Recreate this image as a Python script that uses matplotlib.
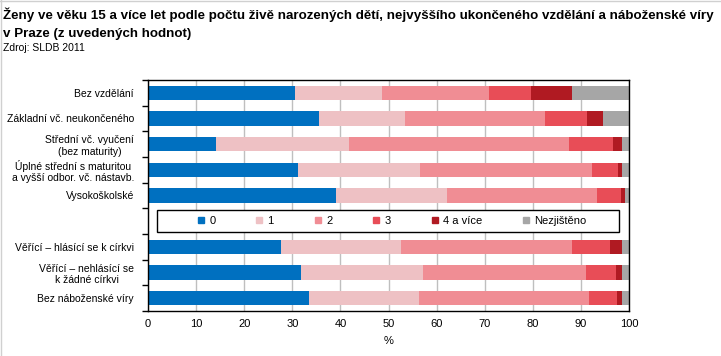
import numpy as np
import matplotlib.pyplot as plt
from matplotlib.lines import Line2D
from matplotlib.patches import Rectangle

plt.rcParams['font.family'] = ['Liberation Sans', 'DejaVu Sans']

# Data (% of women aged 15+, Prague, SLDB 2011)
categories = [
    "Bez vzdělání",
    "Základní vč. neukončeného",
    "Střední vč. vyučení\n(bez maturity)",
    "Úplné střední s maturitou\na vyšší odbor. vč. nástavb.",
    "Vysokoškolské",
    "Věřící – hlásící se k církvi",
    "Věřící – nehlásící se\nk žádné církvi",
    "Bez náboženské víry",
]
series_names = ["0", "1", "2", "3", "4 a více", "Nezjištěno"]
kids_0 = [30.6, 35.6, 14.2, 31.1, 39.1, 27.7, 31.8, 33.5]
kids_1 = [18.0, 17.8, 27.6, 25.4, 23.1, 24.9, 25.4, 22.8]
kids_2 = [22.3, 29.1, 45.7, 35.8, 31.1, 35.5, 33.8, 35.4]
kids_3 = [8.7, 8.8, 9.2, 5.4, 5.0, 7.9, 6.3, 5.8]
kids_4plus = [8.5, 3.3, 1.8, 0.8, 0.9, 2.5, 1.2, 1.0]
unknown = [11.9, 5.4, 1.5, 1.5, 0.8, 1.5, 1.5, 1.5]

colors = ["#0070C0", "#EEC1C4", "#F08D94", "#E84D57", "#B01A22", "#A6A6A6"]

series = [kids_0, kids_1, kids_2, kids_3, kids_4plus, unknown]

# one empty slot between education and religion groups (legend sits there)
ypos = np.array([0, 1, 2, 3, 4, 6, 7, 8])

W, H = 721, 356
fig = plt.figure(figsize=(W / 100, H / 100), dpi=100)
ax = fig.add_axes([148 / W, 1 - 311 / H, 481 / W, 231 / H])

left = np.zeros(len(categories))
for vals, col in zip(series, colors):
    vals = np.array(vals)
    ax.barh(ypos, vals, left=left, height=0.55, color=col, zorder=2)
    left += vals

fs = 7.5
ax.set_xlim(0, 100)
ax.set_ylim(8.5, -0.5)
ax.set_xticks(np.arange(0, 101, 10))
ax.tick_params(axis='x', length=0, labelsize=fs + 0.5, pad=6)
ax.set_yticks(ypos)
ax.set_yticklabels(categories, fontsize=fs, multialignment='center')
ax.tick_params(axis='y', which='major', length=0, pad=10)
ax.set_yticks(np.arange(-0.5, 9, 1), minor=True)
ax.tick_params(axis='y', which='minor', length=4, width=1, color='black')
ax.xaxis.grid(True, color='#BFBFBF', linewidth=1, zorder=0)
ax.set_axisbelow(True)
for sp in ax.spines.values():
    sp.set_color('black')
    sp.set_linewidth(1)
ax.set_xlabel("%", fontsize=fs + 0.5, labelpad=5)

# legend box drawn by hand, entries placed inside it
fig.patches.append(Rectangle((157 / W, 1 - 232 / H), 462 / W, 22 / H,
                             transform=fig.transFigure, facecolor='white',
                             edgecolor='black', linewidth=1, zorder=3))
handles = [Line2D([], [], marker='s', linestyle='', color=c, markersize=5) for c in colors]
leg = fig.legend(handles, series_names, loc='center', ncol=6,
                 bbox_to_anchor=(391 / W, 1 - 221 / H),
                 frameon=False, fontsize=fs + 0.5,
                 handletextpad=0.25, columnspacing=3.45, handlelength=1.0)
leg.set_zorder(4)

fig.text(0.004, 1 - 7 / H,
         "Ženy ve věku 15 a více let podle počtu živě narozených dětí, nejvyššího ukončeného vzdělání a náboženské víry",
         fontsize=9.6, fontweight='bold', va='top', ha='left')
fig.text(0.004, 1 - 28 / H, "v Praze (z uvedených hodnot)",
         fontsize=9.6, fontweight='bold', va='top', ha='left')
fig.text(0.004, 1 - 43 / H, "Zdroj: SLDB 2011", fontsize=7.5, va='top', ha='left')

# light grey frame on top and left edge of the picture
fig.add_artist(Line2D([0, 1], [1 - 0.5 / H, 1 - 0.5 / H], transform=fig.transFigure,
                      color='#D0D0D0', linewidth=1))
fig.add_artist(Line2D([0.5 / W, 0.5 / W], [0, 1], transform=fig.transFigure,
                      color='#D0D0D0', linewidth=1))

fig.savefig("out.png", dpi=100)
